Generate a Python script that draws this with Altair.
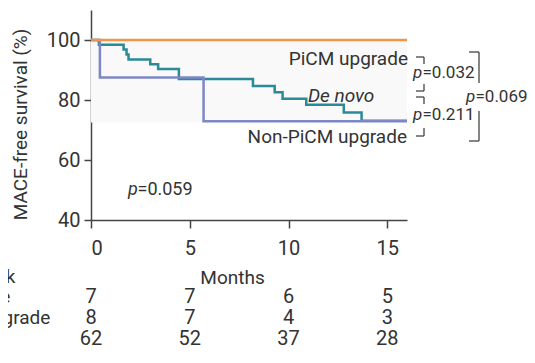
import altair as alt
import pandas as pd

# ---- Kaplan-Meier step data ----
denovo_months = [0, 0.4, 1.65, 1.8, 1.9, 3.0, 3.4, 4.45, 8.2, 9.3, 9.7, 10.9, 12.8, 13.7, 16]
denovo_surv = [100, 98.4, 96.8, 95.2, 93.5, 91.9, 90.3, 87.0, 84.7, 82.6, 80.4, 78.4, 75.8, 73.1, 73.1]
non_months = [0, 0.45, 5.7, 16]
non_surv = [100, 87.5, 72.9, 72.9]
picm_months = [0, 16]
picm_surv = [100, 100]

# ---- number at risk table ----
risk_months = [0, 5, 10, 15]
risk_picm = [7, 7, 6, 5]
risk_non = [8, 7, 4, 3]
risk_denovo = [62, 52, 37, 28]
risk_labels = ["Number at risk", "PiCM upgrade", "Non-PiCM upgrade", "De novo"]

x_ticks = [0, 5, 10, 15]
y_ticks = [40, 60, 80, 100]
box_months = [0, 16]
box_surv = [72.5, 100]

FONT = "Roboto, sans-serif"
TXT = "#333333"
C_PICM = "#f0964a"
C_DENOVO = "#2a8a98"
C_NON = "#7f86c6"
FS = 20
PS = 17

xscale = alt.Scale(domain=[0, 16], nice=False, zero=False)
yscale = alt.Scale(domain=[40, 110], nice=False, zero=False)

xaxis = alt.Axis(values=x_ticks, tickSize=8, labelPadding=10, labelFontSize=FS, labelFont=FONT,
                 labelColor=TXT, title="Months", titleFont=FONT, titleFontSize=19,
                 titleFontWeight="normal", titleColor=TXT, titleX=141, titleY=57,
                 titleAlign="center", titleBaseline="middle", grid=False,
                 domainColor="#444", tickColor="#444", domainWidth=1.5, tickWidth=1.5)
yaxis = alt.Axis(values=y_ticks, tickSize=7, labelPadding=4, labelFontSize=FS, labelFont=FONT,
                 labelColor=TXT, title="MACE-free survival (%)", titleFont=FONT, titleFontSize=19,
                 titleFontWeight="normal", titleColor=TXT, titleX=-71, titleY=114,
                 titleAlign="center", titleBaseline="middle", grid=False,
                 domainColor="#444", tickColor="#444", domainWidth=1.5, tickWidth=1.5)


def km(months, surv):
    return pd.DataFrame({"month": months, "surv": surv})


box = alt.Chart(pd.DataFrame({"m1": [box_months[0]], "m2": [box_months[1]],
                              "s1": [box_surv[0]], "s2": [box_surv[1]]})).mark_rect(
    color="#f9f9f9").encode(
    x=alt.X("m1:Q", scale=xscale, axis=xaxis), x2="m2:Q",
    y=alt.Y("s1:Q", scale=yscale, axis=yaxis), y2="s2:Q")


def line(df, color):
    return alt.Chart(df).mark_line(interpolate="step-after", strokeWidth=2.5, color=color).encode(
        x=alt.X("month:Q", scale=xscale, axis=xaxis),
        y=alt.Y("surv:Q", scale=yscale, axis=yaxis))


l_denovo = line(km(denovo_months, denovo_surv), C_DENOVO)
l_non = line(km(non_months, non_surv), C_NON)
l_picm = line(km(picm_months, picm_surv), C_PICM)

one = pd.DataFrame({"a": [0]})


def txt(text, x, y, align="left", italic=False, size=FS):
    return alt.Chart(one).mark_text(text=text, align=align, baseline="middle", font=FONT,
                                    fontSize=size, color=TXT,
                                    fontStyle="italic" if italic else "normal").encode(
        x=alt.value(x), y=alt.value(y))


def seg(x1, y1, x2, y2):
    enc = {"x": alt.value(x1), "y": alt.value(y1)}
    if x1 != x2:
        enc["x2"] = alt.value(x2)
    if y1 != y2:
        enc["y2"] = alt.value(y2)
    return alt.Chart(one).mark_rule(color="#444", strokeWidth=1.3).encode(**enc)


def ptext(value, x, y, size=PS):
    return [txt("p", x, y, italic=True, size=size), txt("=" + value, x + 9.5, y, size=size)]


annots = [
    txt("PiCM upgrade", 317, 49, align="right", size=19),
    txt("De novo", 217, 86, italic=True, size=19),
    txt("Non-PiCM upgrade", 316, 127, align="right", size=19),
]
annots += ptext("0.059", 37, 180, size=18)
annots += ptext("0.032", 322, 63)
annots += ptext("0.211", 322, 105)
annots += ptext("0.069", 375, 87)

brackets = [
    # PiCM vs De novo
    seg(325, 47, 333, 47), seg(333, 47, 333, 54),
    seg(333, 74, 333, 81), seg(325, 81, 333, 81),
    # De novo vs Non-PiCM
    seg(325, 87, 333, 87), seg(333, 87, 333, 94),
    seg(333, 118, 333, 126), seg(325, 126, 333, 126),
    # PiCM vs Non-PiCM
    seg(378, 42, 388, 42), seg(388, 42, 388, 73),
    seg(388, 101, 388, 131), seg(378, 131, 388, 131),
]

# risk table rows
row_y = [267, 287, 308, 329]
risk_layers = []
for vals, yv in zip([risk_picm, risk_non, risk_denovo], row_y[1:]):
    df = pd.DataFrame({"month": risk_months, "n": [str(v) for v in vals]})
    risk_layers.append(
        alt.Chart(df).mark_text(font=FONT, fontSize=FS, color=TXT, baseline="middle").encode(
            x=alt.X("month:Q", scale=xscale, axis=xaxis), y=alt.value(yv), text="n:N"))
for lab, yv in zip(risk_labels, row_y):
    risk_layers.append(txt(lab, -200, yv, size=19))

chart = alt.layer(box, l_denovo, l_non, l_picm, *annots, *brackets, *risk_layers).properties(
    width=316, height=210,
    autosize=alt.AutoSizeParams(type="none"),
    padding={"left": 83, "top": 2, "right": 120, "bottom": 135},
).configure_view(stroke=None)

chart.save("out.html", embed_options={"renderer": "svg", "actions": False})
